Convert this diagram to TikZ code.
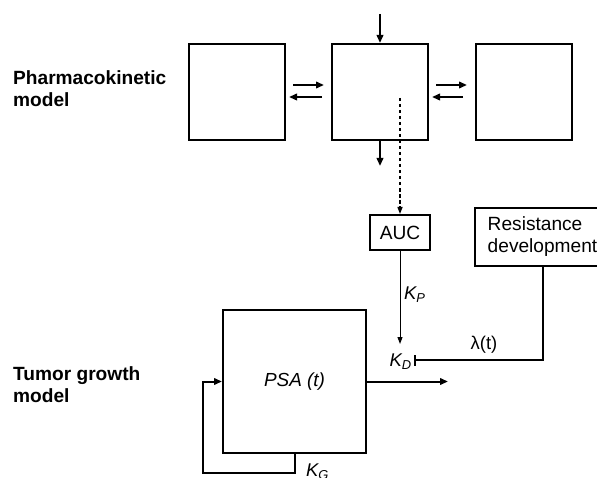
\documentclass[tikz,border=0pt]{standalone}
\usepackage{fontspec}
\setmainfont{Liberation Sans}
\usetikzlibrary{arrows.meta,positioning,calc}

\begin{document}
\begin{tikzpicture}[
  x=1bp, y=-1bp,
  compbox/.style={draw=black, line width=2bp, minimum size=96bp, inner sep=0pt},
  tumorbox/.style={draw=black, line width=2bp, minimum size=143bp, inner sep=0pt, font=\fontsize{19}{22}\selectfont\itshape},
  infobox/.style={draw=black, line width=2bp, inner sep=0pt, font=\fontsize{19.2}{22}\selectfont},
  modellabel/.style={font=\fontsize{19.2}{23}\selectfont\bfseries, align=left, inner sep=0pt},
  ratelabel/.style={font=\fontsize{18.5}{20}\selectfont\itshape, inner sep=1bp},
  flow/.style={-{Triangle[length=8bp,width=6.5bp]}, line width=2bp},
  thinflow/.style={-{Triangle[length=7bp,width=5bp]}, line width=1bp},
  dashflow/.style={thinflow, line width=1.3bp, dash pattern=on 3.5bp off 2.5bp},
  inhibit/.style={-{Bar[width=11bp]}, line width=2bp}
]
  \useasboundingbox (0,0) rectangle (597,478);

  % model labels
  \node[modellabel, anchor=north west] (pklabel) at (13,70) {Pharmacokinetic\\model};
  \node[modellabel, anchor=north west] (tglabel) at (13,366) {Tumor growth\\model};

  % pharmacokinetic compartments
  \node[compbox] (pk1) at (237,92) {};
  \node[compbox] (pk2) at (380,92) {};
  \node[compbox] (pk3) at (524,92) {};

  \coordinate (dose) at (380,14);
  \coordinate (elim) at (380,166);
  \draw[flow] (dose) -- (pk2.north);
  \draw[flow] (pk2.south) -- (elim);

  \draw[flow] ($(pk1.east)+(7,-7)$) -- ($(pk2.west)+(-7,-7)$);
  \draw[flow] ($(pk2.west)+(-9,5)$) -- ($(pk1.east)+(3,5)$);
  \draw[flow] ($(pk2.east)+(7,-7)$) -- ($(pk3.west)+(-8,-7)$);
  \draw[flow] ($(pk3.west)+(-12,5)$) -- ($(pk2.east)+(3,5)$);

  % exposure and resistance
  \node[infobox, minimum width=60bp, minimum height=35bp] (auc) at (400,232.5) {AUC};
  \node[infobox, minimum width=135bp, minimum height=58bp, align=left] (resist) at (542.5,237) {Resistance\\development};

  \coordinate (aucsrc) at (400,98);
  \draw[dashflow] (aucsrc) -- (auc.north);

  \coordinate (kdtop) at (400,344);
  \coordinate (kdbar) at (414,360);
  \draw[thinflow] (auc.south) -- (kdtop);
  \draw[inhibit] (resist.south) |- (kdbar);

  \node[ratelabel, anchor=west] (kp) at (403,295) {K\textsubscript{P}};
  \node[ratelabel, anchor=east] (kd) at (413,362) {K\textsubscript{D}};
  \node[font=\fontsize{18.5}{20}\selectfont, inner sep=1bp] (lambda) at (484,345) {λ(t)};

  % tumor growth
  \node[tumorbox] (psa) at (294.5,381.5) {PSA (t)};
  \coordinate (psaout) at (448,381.5);
  \coordinate (loop) at (203,473);
  \draw[flow] (psa.east) -- (psaout);
  \draw[flow] (psa.south) |- (loop) |- (psa.west);
  \node[ratelabel, anchor=north west] (kg) at (305,463) {K\textsubscript{G}};
\end{tikzpicture}
\end{document}
